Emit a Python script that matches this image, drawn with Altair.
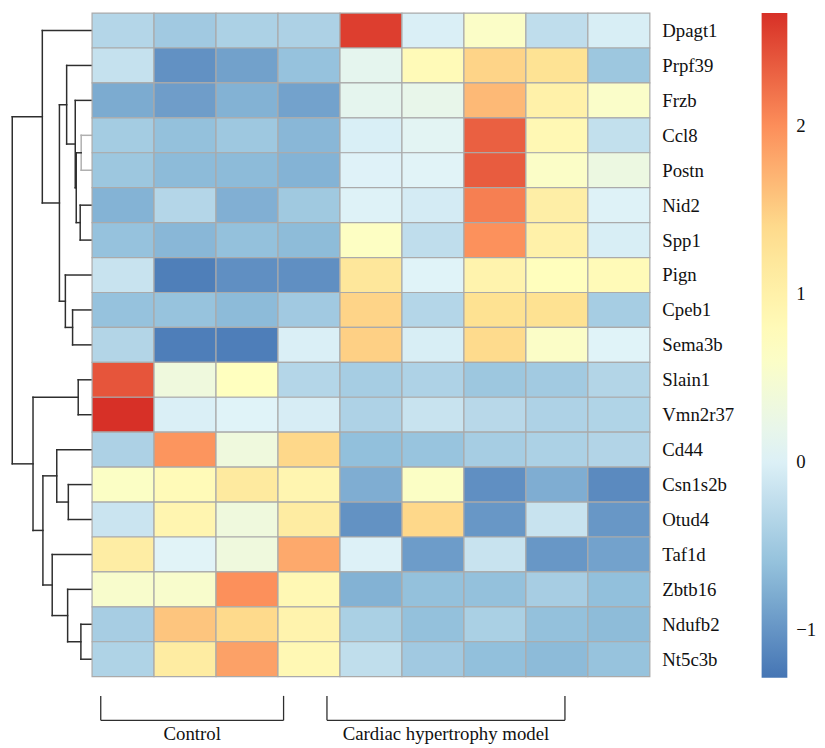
import json
import altair as alt
import pandas as pd

# ---------------- data ----------------
genes = ["Dpagt1", "Prpf39", "Frzb", "Ccl8", "Postn", "Nid2", "Spp1", "Pign",
         "Cpeb1", "Sema3b", "Slain1", "Vmn2r37", "Cd44", "Csn1s2b", "Otud4",
         "Taf1d", "Zbtb16", "Ndufb2", "Nt5c3b"]
samples = ["C1", "C2", "C3", "C4", "M1", "M2", "M3", "M4", "M5"]

dpagt1  = [-0.33, -0.49, -0.40, -0.39, 2.57, -0.01, 0.60, -0.24, -0.03]
prpf39  = [-0.19, -1.03, -0.89, -0.58, 0.15, 0.80, 1.45, 1.30, -0.52]
frzb    = [-0.80, -0.92, -0.74, -0.88, 0.15, 0.20, 1.66, 1.00, 0.58]
ccl8    = [-0.46, -0.60, -0.51, -0.69, -0.02, 0.10, 2.33, 0.85, -0.21]
postn   = [-0.52, -0.66, -0.66, -0.73, 0.03, 0.05, 2.36, 0.60, 0.30]
nid2    = [-0.73, -0.33, -0.76, -0.50, 0.02, -0.06, 2.11, 1.05, 0.02]
spp1    = [-0.58, -0.69, -0.60, -0.65, 0.65, -0.24, 1.98, 1.00, -0.03]
pign    = [-0.16, -1.19, -1.05, -1.05, 1.20, 0.04, 0.95, 0.72, 0.80]
cpeb1   = [-0.58, -0.57, -0.66, -0.49, 1.45, -0.33, 1.32, 1.32, -0.45]
sema3b  = [-0.34, -1.20, -1.20, -0.01, 1.48, -0.03, 1.39, 0.60, 0.04]
slain1  = [2.41, 0.35, 0.70, -0.33, -0.45, -0.38, -0.52, -0.48, -0.34]
vmn2r37 = [2.67, -0.01, 0.04, -0.04, -0.38, -0.16, -0.30, -0.38, -0.36]
cd44    = [-0.39, 1.95, 0.35, 1.42, -0.61, -0.56, -0.45, -0.40, -0.35]
csn1s2b = [0.62, 0.80, 1.15, 0.90, -0.78, 0.62, -1.05, -0.78, -1.09]
otud4   = [-0.15, 0.90, 0.35, 1.10, -1.02, 1.42, -0.98, -0.16, -0.98]
taf1d   = [1.08, 0.05, 0.35, 1.79, 0.01, -0.93, -0.16, -0.98, -0.88]
zbtb16  = [0.55, 0.55, 1.99, 0.85, -0.74, -0.60, -0.60, -0.44, -0.61]
ndufb2  = [-0.44, 1.57, 1.40, 0.95, -0.41, -0.60, -0.41, -0.60, -0.65]
nt5c3b  = [-0.37, 1.10, 1.85, 0.85, -0.23, -0.49, -0.61, -0.66, -0.57]

matrix = [dpagt1, prpf39, frzb, ccl8, postn, nid2, spp1, pign, cpeb1, sema3b,
          slain1, vmn2r37, cd44, csn1s2b, otud4, taf1d, zbtb16, ndufb2, nt5c3b]

# row dendrogram (linkage: leaves 0..18, new nodes numbered from 19)
merge_a = [3, 5, 19, 2, 1, 8, 7, 23, 0, 10, 13, 12, 17, 16, 15, 30, 28, 27]
merge_b = [4, 6, 20, 21, 22, 9, 24, 25, 26, 11, 14, 29, 18, 31, 32, 33, 34, 35]
merge_h = [11, 12, 16, 17, 25.7, 19.7, 27, 33, 50.3, 14, 24, 35.7, 11.3, 24.7,
           40.3, 49.7, 59.7, 80.7]
faded_nodes = [19]

# sample groups (bracket spans in column units)
group_names = ["Control", "Cardiac hypertrophy model"]
group_start = [0.14, 3.79]
group_end = [3.09, 7.63]

# colour scale (pheatmap default: rev RdYlBu, 7 colours)
pal = ["#4575B4", "#91BFDB", "#E0F3F8", "#FFFFBF", "#FEE090", "#FC8D59", "#D73027"]
vmin, vmax = -1.28, 2.67

FONT = "Liberation Serif"
FS = 19
HM_W, HM_H = 564, 671
DEND_W = 85

# ---------------- tables ----------------
cells = []
for r, g in enumerate(genes):
    for c, s in enumerate(samples):
        cells.append({"gene": g, "sample": s, "c0": c, "c1": c + 1,
                      "r0": r, "r1": r + 1, "value": matrix[r][c]})
cells = pd.DataFrame(cells)

pos = {i: i + 0.5 for i in range(len(genes))}
hgt = {i: 0.0 for i in range(len(genes))}
segs = []
for k, (a, b, h) in enumerate(zip(merge_a, merge_b, merge_h)):
    node = len(genes) + k
    col = "#b0b0b0" if node in faded_nodes else "#2e2e2e"
    for ch in (a, b):
        segs.append({"x": hgt[ch], "x2": h, "y": pos[ch], "y2": pos[ch], "col": col})
    segs.append({"x": h, "x2": h, "y": pos[a], "y2": pos[b], "col": col})
    pos[node] = (pos[a] + pos[b]) / 2
    hgt[node] = h
segs = pd.DataFrame(segs)

nrow = len(genes)
br_top, br_bot, lab_y = nrow + 0.55, nrow + 1.25, nrow + 1.82
brk = []
for n, s, e in zip(group_names, group_start, group_end):
    brk.append({"x": s, "x2": e, "y": br_bot, "y2": br_bot})
    brk.append({"x": s, "x2": s, "y": br_top, "y2": br_bot})
    brk.append({"x": e, "x2": e, "y": br_top, "y2": br_bot})
brk = pd.DataFrame(brk)
labs = pd.DataFrame({"name": group_names,
                     "xc": [(s + e) / 2 for s, e in zip(group_start, group_end)],
                     "y": [lab_y] * len(group_names)})

# ---------------- charts ----------------
xs = alt.Scale(domain=[0, len(samples)], nice=False, zero=False)
ys = alt.Scale(domain=[0, nrow], nice=False, zero=False, reverse=True)

stops = [vmin + i * (vmax - vmin) / (len(pal) - 1) for i in range(len(pal))]

label_expr = json.dumps(genes) + "[floor(datum.value)]"
yaxis = alt.Axis(orient="right", values=[i + 0.5 for i in range(nrow)],
                 labelExpr=label_expr, ticks=False, domain=False,
                 grid=False, title=None, labelFont=FONT,
                 labelFontSize=FS, labelColor="#111111",
                 labelPadding=12, labelBaseline="middle", labelAlign="left")

heat = alt.Chart(cells).mark_rect(stroke="#aaaaaa", strokeWidth=1.2).encode(
    x=alt.X("c0:Q", scale=xs, axis=None),
    x2="c1:Q",
    y=alt.Y("r0:Q", scale=ys, axis=yaxis),
    y2="r1:Q",
    color=alt.Color("value:Q",
                    scale=alt.Scale(domain=stops, range=pal, interpolate="rgb"),
                    legend=alt.Legend(title=None, values=[-1, 0, 1, 2], format="d",
                                      gradientLength=672, gradientThickness=26,
                                      labelFont=FONT, labelFontSize=FS,
                                      labelColor="#111111", labelOffset=9,
                                      offset=28, gradientStrokeWidth=0)),
)

brackets = alt.Chart(brk).mark_rule(color="#2e2e2e", strokeWidth=1.3).encode(
    x=alt.X("x:Q", scale=xs, axis=None), x2="x2:Q",
    y=alt.Y("y:Q", scale=ys, axis=yaxis), y2="y2:Q",
)
group_text = alt.Chart(labs).mark_text(font=FONT, fontSize=FS, color="#111111",
                                       baseline="alphabetic", align="center").encode(
    x=alt.X("xc:Q", scale=xs, axis=None),
    y=alt.Y("y:Q", scale=ys, axis=yaxis),
    text="name:N",
)

right = alt.layer(heat, brackets, group_text).properties(width=HM_W, height=HM_H)

dend = alt.Chart(segs).mark_rule(strokeWidth=1.5, strokeCap="square").encode(
    x=alt.X("x:Q", scale=alt.Scale(domain=[0, DEND_W], nice=False, zero=False,
                                   reverse=True), axis=None),
    x2="x2:Q",
    y=alt.Y("y:Q", scale=alt.Scale(domain=[0, nrow], nice=False, zero=False,
                                   reverse=True), axis=None),
    y2="y2:Q",
    color=alt.Color("col:N", scale=None),
).properties(width=DEND_W, height=HM_H)

chart = alt.hconcat(dend, right, spacing=0, bounds="flush").properties(
    padding=0, background="white"
).resolve_scale(y="independent", x="independent").configure_view(strokeWidth=0)

chart.save("out.html", embed_options={"renderer": "svg", "actions": False})
